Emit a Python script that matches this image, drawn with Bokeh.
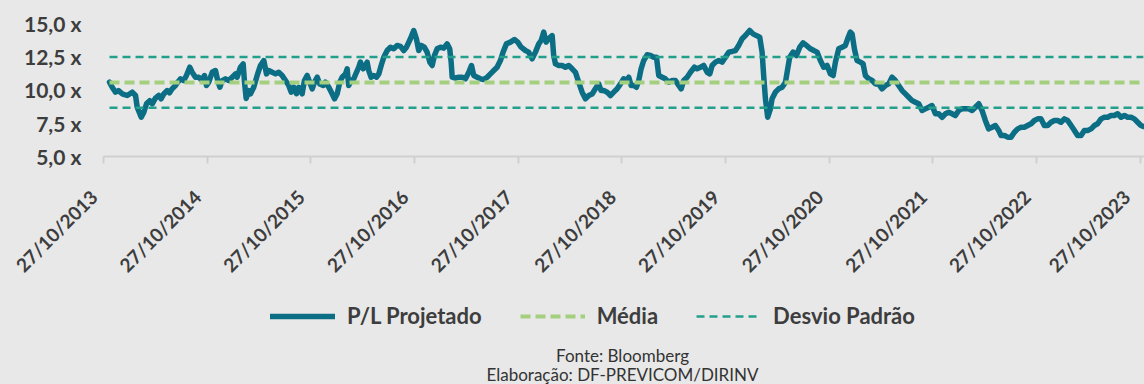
from bokeh.plotting import figure
from bokeh.layouts import column
from bokeh.models import (Range1d, FixedTicker, Legend, LegendItem, Label)
from bokeh.embed import file_html
from bokeh.resources import INLINE

# ---- data -------------------------------------------------------------
# x: years elapsed since 27/10/2013 ; y: projected P/L (x)
anos = [0.058, 0.084, 0.116, 0.145, 0.180, 0.229, 0.277, 0.309, 0.325, 0.364,
        0.389, 0.415, 0.446, 0.470, 0.501, 0.533, 0.556, 0.581, 0.614, 0.636,
        0.662, 0.694, 0.716, 0.743, 0.774, 0.800, 0.832, 0.855, 0.887, 0.919,
        0.952, 0.974, 0.993, 1.015, 1.048, 1.080, 1.102, 1.122, 1.145, 1.176,
        1.208, 1.241, 1.273, 1.289, 1.321, 1.347, 1.360, 1.376, 1.401,
        1.418, 1.449, 1.482, 1.514, 1.546, 1.572, 1.594, 1.627, 1.659, 1.690,
        1.723, 1.755, 1.787, 1.810, 1.835, 1.861, 1.883, 1.916, 1.938, 1.964,
        1.989, 2.013, 2.035, 2.061, 2.086, 2.119, 2.141, 2.173, 2.205, 2.228,
        2.254, 2.279, 2.302, 2.334, 2.350, 2.365, 2.389, 2.414, 2.440, 2.462,
        2.478, 2.504, 2.527, 2.543, 2.558, 2.581, 2.607, 2.633, 2.655, 2.678,
        2.703, 2.736, 2.768, 2.799, 2.832, 2.864,
        2.896, 2.922, 2.960, 2.992, 3.018, 3.040, 3.064, 3.095, 3.121, 3.147,
        3.170, 3.192, 3.218, 3.250, 3.282, 3.314, 3.339, 3.353, 3.363, 3.394,
        3.426, 3.459, 3.491, 3.523, 3.549, 3.571, 3.604, 3.635, 3.667, 3.700,
        3.732, 3.764, 3.796, 3.828, 3.854, 3.886, 3.925, 3.963, 3.995, 4.028,
        4.069, 4.101, 4.134, 4.166, 4.198, 4.221, 4.246, 4.269, 4.294,
        4.327, 4.342, 4.359, 4.391, 4.423, 4.455, 4.487, 4.520, 4.552, 4.583,
        4.616, 4.648, 4.680, 4.713, 4.744, 4.776, 4.799, 4.825, 4.857, 4.889,
        4.921, 4.954, 4.986, 5.017, 5.050, 5.066, 5.089, 5.114, 5.140, 5.162,
        5.185, 5.210, 5.243, 5.275, 5.307, 5.333, 5.355, 5.388, 5.419, 5.451,
        5.484, 5.516, 5.548, 5.571, 5.596, 5.629, 5.661, 5.699, 5.725, 5.757,
        5.789, 5.822, 5.847, 5.870, 5.902, 5.934, 5.966, 5.998, 6.030, 6.063,
        6.095, 6.126, 6.159, 6.191, 6.232, 6.265, 6.297, 6.329, 6.352, 6.367,
        6.384, 6.406, 6.432, 6.448, 6.480, 6.512, 6.545, 6.577, 6.599, 6.618,
        6.651, 6.683, 6.715, 6.747, 6.779, 6.818, 6.850, 6.882, 6.914, 6.946,
        6.979, 7.011, 7.037, 7.059, 7.091, 7.123, 7.155, 7.177, 7.203,
        7.220, 7.242, 7.268, 7.300, 7.326, 7.348, 7.380, 7.413, 7.445, 7.476,
        7.509, 7.541, 7.573, 7.605, 7.637, 7.669, 7.702, 7.734, 7.766, 7.798,
        7.830, 7.862, 7.895, 7.927, 7.959, 7.991, 8.023, 8.055, 8.088, 8.120,
        8.152, 8.184, 8.216, 8.248, 8.281, 8.313, 8.344, 8.377, 8.409, 8.441,
        8.473, 8.505, 8.537, 8.570, 8.602, 8.634,
        8.657, 8.689, 8.720, 8.753, 8.785, 8.817, 8.850, 8.881, 8.913, 8.946,
        8.978, 9.010, 9.042, 9.074, 9.106, 9.139, 9.171, 9.203, 9.235, 9.267,
        9.299, 9.332, 9.364, 9.395, 9.428, 9.460, 9.492, 9.525, 9.556, 9.588,
        9.621, 9.653, 9.685, 9.717, 9.749, 9.781, 9.814, 9.846, 9.878, 9.910,
        9.942, 9.974, 10.006, 10.029]

pl_projetado = [10.57, 10.19, 9.82, 9.94, 9.70, 9.57, 9.82, 9.57, 8.69, 7.94,
                8.32, 8.95, 9.19, 8.95, 9.37, 9.57, 9.32, 9.69, 9.94, 9.77,
                10.07, 10.32, 10.57, 10.82, 10.69, 11.07, 11.69, 11.31, 10.94, 10.94,
                10.69, 11.07, 10.32, 10.57, 11.31, 11.44, 10.69, 10.19, 10.69, 10.82,
                10.69, 10.94, 11.19, 10.94, 11.69, 11.94, 10.57, 9.35, 9.94,
                9.70, 10.19, 11.07, 11.82, 12.19, 11.19, 11.44, 11.31, 11.19, 11.31,
                11.07, 10.69, 10.32, 9.82, 10.19, 9.70, 10.19, 9.70, 10.69, 11.07,
                10.57, 10.07, 10.57, 10.94, 10.44, 10.32, 10.57, 10.19, 9.70, 9.32,
                9.70, 10.57, 10.94, 11.19, 11.57, 10.32, 10.69, 10.82, 11.31, 11.69,
                12.07, 11.57, 11.82, 12.07, 11.44, 10.94, 11.07, 10.94, 11.19, 11.82,
                12.44, 12.94, 13.19, 13.07, 13.32, 13.25,
                12.94, 13.19, 13.82, 14.44, 13.82, 12.94, 13.32, 13.19, 12.82, 12.07,
                11.82, 12.57, 13.07, 13.19, 13.12, 13.44, 13.07, 12.07, 10.94, 10.87,
                10.94, 10.94, 10.82, 11.31, 11.82, 11.07, 10.94, 10.82, 10.77, 10.94,
                11.19, 11.44, 11.69, 12.19, 12.82, 13.44, 13.57, 13.77, 13.57, 13.19,
                12.94, 12.82, 12.32, 12.82, 13.44, 13.69, 14.32, 13.57, 13.82,
                14.06, 12.57, 11.94, 11.82, 11.82, 11.69, 11.82, 11.57, 11.31, 10.57,
                9.82, 9.32, 9.57, 9.69, 10.07, 10.44, 9.94, 9.94, 9.82, 9.57,
                9.82, 10.07, 10.44, 10.82, 10.69, 10.94, 10.32, 10.32, 10.19, 10.69,
                11.57, 12.19, 12.62, 12.57, 12.44, 12.44, 11.07, 10.94, 10.82, 10.57,
                10.69, 10.69, 10.32, 10.07, 10.69, 10.94, 11.31, 11.69, 11.57, 11.69,
                11.82, 11.31, 11.19, 11.82, 12.07, 12.19, 12.07, 12.44, 12.82, 12.87,
                12.94, 13.32, 13.82, 14.06, 14.44, 14.19, 14.06, 13.94, 12.82, 11.07,
                9.32, 7.94, 8.57, 9.32, 9.82, 10.07, 10.19, 10.57, 11.57, 12.44,
                12.82, 12.57, 13.19, 13.52, 13.32, 13.07, 12.94, 12.82, 12.19, 11.69,
                11.82, 11.19, 11.07, 12.07, 13.07, 13.19, 13.32, 13.82, 14.32,
                14.19, 13.07, 12.19, 12.07, 11.94, 11.07, 10.82, 10.69, 10.44, 10.44,
                10.07, 10.32, 10.44, 10.94, 10.69, 10.32, 9.94, 9.69, 9.44, 9.19,
                9.07, 8.95, 8.45, 8.57, 8.69, 8.82, 8.20, 8.20, 7.94, 8.20,
                8.32, 8.20, 8.07, 8.45, 8.57, 8.57, 8.57, 8.45, 8.69, 8.95,
                8.45, 7.70, 7.07, 7.19, 7.32, 6.95,
                6.57, 6.57, 6.45, 6.45, 6.82, 7.07, 7.19, 7.19, 7.32, 7.45,
                7.70, 7.82, 7.82, 7.32, 7.32, 7.57, 7.70, 7.70, 7.57, 7.82,
                7.70, 7.32, 6.95, 6.57, 6.57, 6.95, 6.95, 7.07, 7.32, 7.45,
                7.82, 7.94, 7.94, 8.07, 8.07, 8.20, 7.94, 8.07, 7.94, 7.94,
                7.82, 7.57, 7.32, 7.25]

media = 10.55
desvio = 1.9

x_ticks = list(range(11))
x_tick_labels = ["27/10/2013", "27/10/2014", "27/10/2015", "27/10/2016",
                 "27/10/2017", "27/10/2018", "27/10/2019", "27/10/2020",
                 "27/10/2021", "27/10/2022", "27/10/2023"]
y_ticks = [5.0, 7.5, 10.0, 12.5, 15.0]
y_tick_labels = ["5,0 x", "7,5 x", "10,0 x", "12,5 x", "15,0 x"]

serie_nomes = ["P/L Projetado", "Média", "Desvio Padrão"]
fonte = "Fonte: Bloomberg"
elaboracao = "Elaboração: DF-PREVICOM/DIRINV"

# ---- styling ----------------------------------------------------------
BG = "#e8e8e8"
TEAL = "#0c6e85"
GREEN = "#a4cf7e"
STD = "#22a08b"
TXT = "#3d3d3d"
FONT = "Lato"
PAD = "\u00a0\u00a0\u00a0"   # nudges rotated labels down-left along their baseline

MAIN_STYLE = dict(line_color=TEAL, line_width=5.5, line_join="round",
                  line_cap="round")
MEAN_STYLE = dict(line_color=GREEN, line_width=4, line_dash="10 5")
STD_STYLE = dict(line_color=STD, line_width=2.5, line_dash="8 5")

# ---- main chart -------------------------------------------------------
p = figure(width=1144, height=292, output_backend="svg", toolbar_location=None,
           x_range=Range1d(0, 10.04), y_range=Range1d(5, 15.49),
           min_border_left=103, min_border_right=0, min_border_top=16,
           min_border_bottom=136)
p.background_fill_color = BG
p.border_fill_color = BG
p.outline_line_color = None
p.grid.visible = False
p.styles = {"background-color": BG}

p.line(anos, pl_projetado, **MAIN_STYLE)
x0, x1 = anos[0], anos[-1]
p.line([x0, x1], [media, media], **MEAN_STYLE)
p.line([x0, x1], [media + desvio] * 2, **STD_STYLE)
p.line([x0, x1], [media - desvio] * 2, **STD_STYLE)

xa = p.xaxis[0]
xa.ticker = FixedTicker(ticks=x_ticks)
xa.major_label_overrides = {t: l + PAD for t, l in zip(x_ticks, x_tick_labels)}
xa.major_label_orientation = 0.785398
xa.axis_line_color = "#cfcfcf"
xa.axis_line_width = 2
xa.major_tick_line_color = "#cfcfcf"
xa.major_tick_line_width = 2
xa.major_tick_out = 7
xa.major_tick_in = 0
xa.minor_tick_line_color = None
xa.major_label_text_font = FONT
xa.major_label_text_font_style = "bold"
xa.major_label_text_font_size = "19px"
xa.major_label_text_color = TXT
xa.major_label_standoff = 20

ya = p.yaxis[0]
ya.ticker = FixedTicker(ticks=y_ticks)
ya.major_label_overrides = {t: l for t, l in zip(y_ticks, y_tick_labels)}
ya.axis_line_color = None
ya.major_tick_line_color = None
ya.major_tick_out = 0
ya.major_tick_in = 0
ya.minor_tick_line_color = None
ya.major_label_text_font = FONT
ya.major_label_text_font_style = "bold"
ya.major_label_text_font_size = "21px"
ya.major_label_text_color = TXT
ya.major_label_standoff = 22

# ---- legend + source strip ---------------------------------------------
p2 = figure(width=1144, height=92, output_backend="svg", toolbar_location=None,
            x_range=Range1d(0, 1), y_range=Range1d(0, 1),
            x_axis_type=None, y_axis_type=None,
            min_border_left=103, min_border_right=0, min_border_top=0,
            min_border_bottom=0)
p2.background_fill_color = BG
p2.border_fill_color = BG
p2.outline_line_color = None
p2.grid.visible = False
p2.styles = {"background-color": BG}

nan = float("nan")
r_main = p2.line([nan], [nan], **MAIN_STYLE)
r_mean = p2.line([nan], [nan], **MEAN_STYLE)
r_std = p2.line([nan], [nan], **STD_STYLE)

legend = Legend(items=[LegendItem(label=serie_nomes[0], renderers=[r_main]),
                       LegendItem(label=serie_nomes[1], renderers=[r_mean]),
                       LegendItem(label=serie_nomes[2], renderers=[r_std])],
                orientation="horizontal", location=(167, 55),
                glyph_width=65, glyph_height=22, label_standoff=12, spacing=38,
                padding=0, margin=0, background_fill_alpha=0,
                border_line_alpha=0, label_text_font=FONT,
                label_text_font_style="bold", label_text_font_size="22px",
                label_text_color=TXT)
p2.add_layout(legend, "center")

for txt, yy in [(fonte, 29), (elaboracao, 10)]:
    p2.add_layout(Label(x=519, y=yy, x_units="screen", y_units="screen",
                        text=txt, text_align="center", text_baseline="middle",
                        text_font=FONT, text_font_size="17px",
                        text_color="#333333"))

layout = column(p, p2, spacing=0, styles={"background-color": BG})
open("out.html", "w").write(file_html(layout, INLINE))
